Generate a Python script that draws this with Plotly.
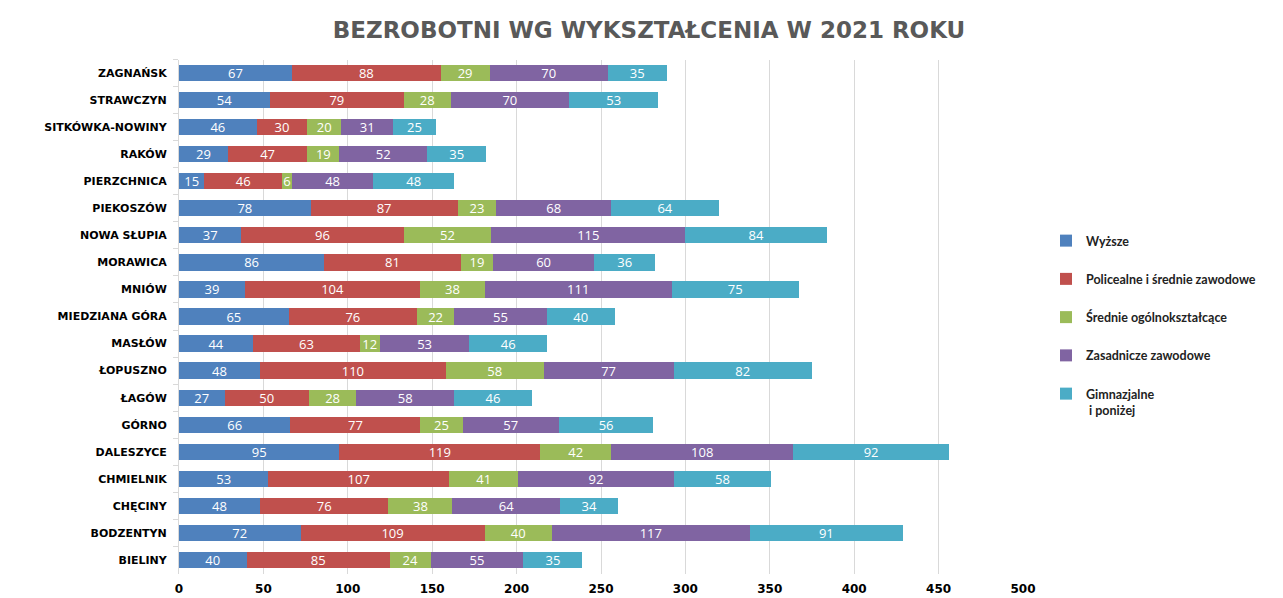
import plotly.graph_objects as go

gminy = ["ZAGNAŃSK", "STRAWCZYN", "SITKÓWKA-NOWINY", "RAKÓW", "PIERZCHNICA", "PIEKOSZÓW",
         "NOWA SŁUPIA", "MORAWICA", "MNIÓW", "MIEDZIANA GÓRA", "MASŁÓW", "ŁOPUSZNO",
         "ŁAGÓW", "GÓRNO", "DALESZYCE", "CHMIELNIK", "CHĘCINY", "BODZENTYN", "BIELINY"]

wyzsze = [67, 54, 46, 29, 15, 78, 37, 86, 39, 65, 44, 48, 27, 66, 95, 53, 48, 72, 40]
policealne = [88, 79, 30, 47, 46, 87, 96, 81, 104, 76, 63, 110, 50, 77, 119, 107, 76, 109, 85]
srednie_ogolne = [29, 28, 20, 19, 6, 23, 52, 19, 38, 22, 12, 58, 28, 25, 42, 41, 38, 40, 24]
zasadnicze = [70, 70, 31, 52, 48, 68, 115, 60, 111, 55, 53, 77, 58, 57, 108, 92, 64, 117, 55]
gimnazjalne = [35, 53, 25, 35, 48, 64, 84, 36, 75, 40, 46, 82, 46, 56, 92, 58, 34, 91, 35]

series = [
    ("Wyższe", wyzsze, "#4F81BD"),
    ("Policealne i średnie zawodowe", policealne, "#C0504D"),
    ("Średnie ogólnokształcące", srednie_ogolne, "#9BBB59"),
    ("Zasadnicze zawodowe", zasadnicze, "#8064A2"),
    ("Gimnazjalne<br> i poniżej", gimnazjalne, "#4BACC6"),
]

x_ticks = [0, 50, 100, 150, 200, 250, 300, 350, 400, 450, 500]

fig = go.Figure()
for i, (name, vals, color) in enumerate(series):
    fig.add_trace(go.Bar(
        y=gminy, x=vals, name=name, orientation="h",
        marker=dict(color=color, line=dict(width=0)),
        text=vals, textposition="inside", insidetextanchor="middle",
        textangle=0, constraintext="none",
        textfont=dict(color="white", size=13, family="Open Sans"),
        legendgroup=f"g{i}",
    ))

# page has an 8px body margin; figure coordinates below are page coords minus 8
OFF = 8
W, H = 1283 - OFF, 598 - OFF
fig.update_layout(
    barmode="stack",
    bargap=0.4,
    width=W, height=H,
    paper_bgcolor="white", plot_bgcolor="white",
    margin=dict(l=0, r=0, t=0, b=0, autoexpand=False),
    title=dict(text="BEZROBOTNI WG WYKSZTAŁCENIA W 2021 ROKU",
               x=(649 - OFF) / W, xanchor="center", y=1 - (30 - OFF) / H, yanchor="middle",
               xref="paper", yref="paper",
               font=dict(family="DejaVu Sans", size=23, color="#595959", weight="bold")),
    uniformtext=dict(mode="show", minsize=10),
    legend=dict(x=(1046 - OFF) / W, y=1 - (226 - OFF) / H, xanchor="left", yanchor="top",
                font=dict(family="Lato", size=12.5, color="#222222", weight="bold"),
                tracegroupgap=19, itemwidth=30, valign="top"),
    showlegend=True,
)
fig.update_xaxes(domain=[(179 - OFF) / W, (1023 - OFF) / W], automargin=False,
                 range=[0, 500], tickvals=x_ticks, showgrid=True, gridcolor="#D9D9D9",
                 gridwidth=1, zeroline=False, showline=False, ticklabelstandoff=6,
                 tickfont=dict(family="DejaVu Sans", size=12, color="#000000", weight="bold"),
                 ticks="", fixedrange=True)
fig.update_yaxes(domain=[1 - (573.5 - OFF) / H, 1 - (59.5 - OFF) / H], automargin=False,
                 autorange="reversed", showline=True, linecolor="#D9D9D9", linewidth=1,
                 ticks="outside", ticklen=5, tickcolor="#D9D9D9", tickson="boundaries",
                 ticklabelstandoff=9,
                 tickfont=dict(family="DejaVu Sans", size=11, color="#000000", weight="bold"),
                 showgrid=False)

fig.write_html("out.html")
